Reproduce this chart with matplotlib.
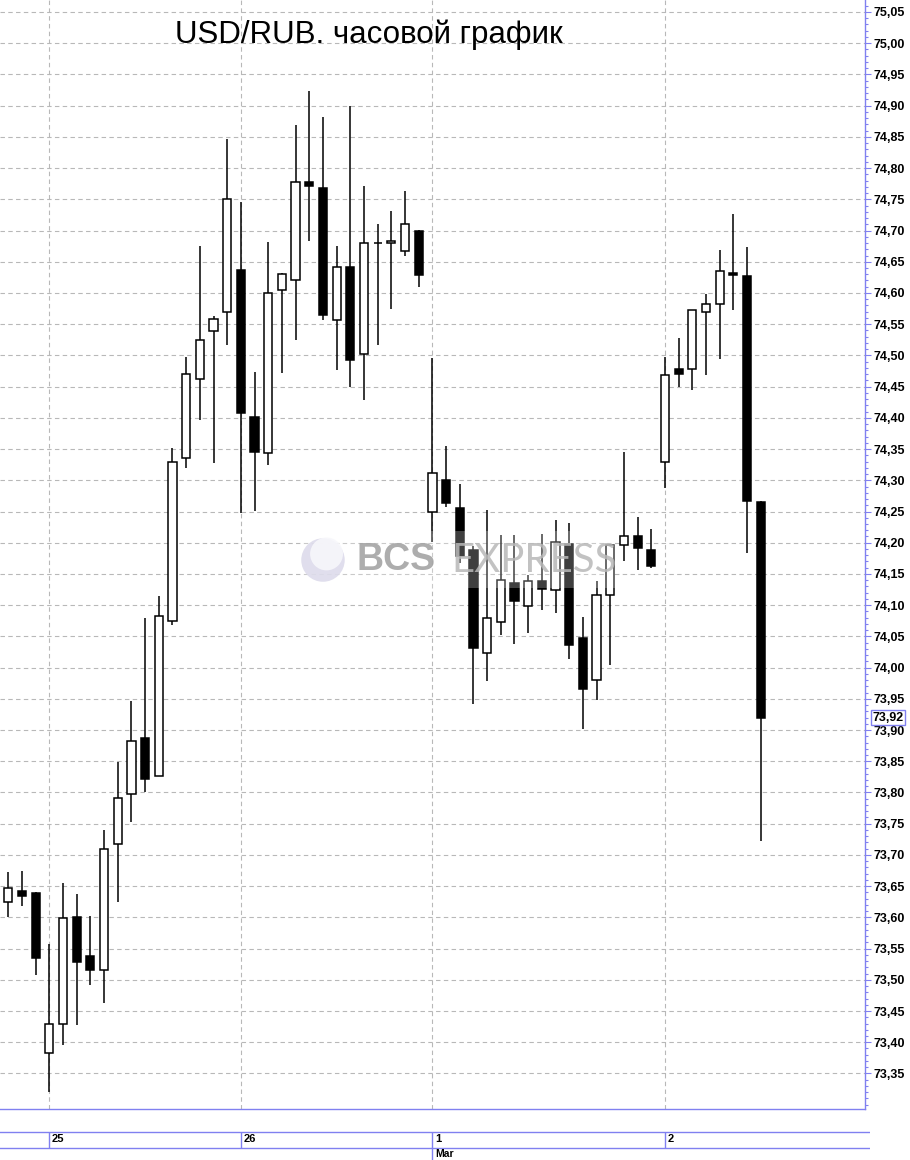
import numpy as np
import matplotlib
matplotlib.use("Agg")
import matplotlib.pyplot as plt
from matplotlib.patches import Rectangle
from matplotlib.ticker import MultipleLocator, FuncFormatter

# hourly USD/RUB candles, 24 Feb - 2 Mar
opens = [73.624, 73.642, 73.639, 73.382, 73.430, 73.601, 73.538, 73.515, 73.717, 73.797,
         73.887, 73.826, 74.074, 74.335, 74.462, 74.539, 74.569, 74.636, 74.401, 74.343,
         74.604, 74.621, 74.777, 74.768, 74.556, 74.641, 74.502, 74.680, 74.680, 74.667,
         74.699, 74.249, 74.300, 74.256, 74.188, 74.023, 74.073, 74.136, 74.099, 74.139,
         74.125, 74.198, 74.047, 73.980, 74.117, 74.197, 74.210, 74.189, 74.329, 74.479,
         74.479, 74.569, 74.582, 74.632, 74.627, 74.266]
highs = [73.673, 73.674, 73.640, 73.557, 73.655, 73.638, 73.602, 73.740, 73.849, 73.947,
         74.079, 74.115, 74.351, 74.497, 74.675, 74.563, 74.847, 74.746, 74.473, 74.681,
         74.632, 74.869, 74.923, 74.882, 74.675, 74.900, 74.772, 74.710, 74.731, 74.763,
         74.701, 74.496, 74.355, 74.294, 74.194, 74.252, 74.212, 74.212, 74.148, 74.214,
         74.236, 74.232, 74.081, 74.139, 74.198, 74.345, 74.241, 74.222, 74.497, 74.528,
         74.572, 74.598, 74.669, 74.727, 74.674, 74.267]
lows = [73.601, 73.619, 73.507, 73.321, 73.396, 73.428, 73.492, 73.463, 73.625, 73.752,
        73.800, 73.826, 74.069, 74.319, 74.397, 74.327, 74.516, 74.247, 74.251, 74.325,
        74.472, 74.525, 74.684, 74.557, 74.477, 74.450, 74.428, 74.516, 74.575, 74.660,
        74.610, 74.201, 74.257, 74.168, 73.941, 73.978, 74.052, 74.038, 74.056, 74.093,
        74.088, 74.013, 73.901, 73.948, 74.004, 74.171, 74.157, 74.160, 74.287, 74.449,
        74.445, 74.469, 74.495, 74.573, 74.183, 73.722]
closes = [73.647, 73.635, 73.535, 73.430, 73.599, 73.528, 73.515, 73.709, 73.791, 73.882,
          73.821, 74.082, 74.330, 74.471, 74.524, 74.559, 74.750, 74.408, 74.346, 74.600,
          74.630, 74.777, 74.771, 74.564, 74.641, 74.493, 74.680, 74.680, 74.684, 74.710,
          74.629, 74.311, 74.263, 74.179, 74.032, 74.080, 74.140, 74.107, 74.138, 74.126,
          74.201, 74.037, 73.966, 74.117, 74.196, 74.210, 74.192, 74.162, 74.468, 74.471,
          74.572, 74.582, 74.635, 74.629, 74.267, 73.920]

day_start = [3, 17, 31, 48]
day_labels = ["25", "26", "1", "2"]
month_start = 31
month_label = "Mar"
last_price = 73.92
price_ticks = np.round(np.arange(73.35, 75.051, 0.05), 2)
title = "USD/RUB. часовой график"

blue = "#8080f0"
grid_c = "#b8b8b8"

fig = plt.figure(figsize=(9.1, 11.6), dpi=100)
W, H = 910, 1160
ax = fig.add_axes([0, 51 / H, 865 / W, 1109 / H])

n = len(opens)
idx = np.arange(n)
bw = 0.6
for i in idx:
    o, h, l, c = opens[i], highs[i], lows[i], closes[i]
    ax.vlines(i, l, h, color="black", lw=1.1, zorder=2)
    up = c >= o
    ax.add_patch(Rectangle((i - bw / 2, min(o, c)), bw, abs(c - o),
                           facecolor="white" if up else "black",
                           edgecolor="black", lw=1.1, zorder=3))

ax.set_xlim(-0.607, 62.62)
ax.set_ylim(73.2931, 75.0692)

# grid
for d in day_start:
    ax.axvline(d, color=grid_c, lw=0.8, ls=(0, (4, 3)), zorder=1)
ax.set_yticks(price_ticks)
ax.yaxis.set_minor_locator(MultipleLocator(0.01))
ax.yaxis.grid(True, which="major", color=grid_c, lw=0.8, ls=(0, (4, 3)), zorder=1)
ax.set_axisbelow(True)

ax.yaxis.tick_right()
ax.yaxis.set_major_formatter(FuncFormatter(lambda v, p: f"{v:.2f}".replace(".", ",")))
ax.tick_params(axis="y", which="major", length=4, width=0.8, color=blue, pad=2,
               labelsize=9)
ax.tick_params(axis="y", which="minor", length=2.2, width=0.8, color=blue)
for lab in ax.get_yticklabels():
    lab.set_fontfamily("Liberation Sans")
    lab.set_fontweight("bold")
ax.set_xticks([])
for s in ["top", "left"]:
    ax.spines[s].set_visible(False)
ax.spines["right"].set_color(blue)
ax.spines["bottom"].set_color(blue)
ax.spines["right"].set_linewidth(1)
ax.spines["bottom"].set_linewidth(1)

ax.annotate(f"{last_price:.2f}".replace(".", ","), xy=(1, last_price),
            xycoords=("axes fraction", "data"), xytext=(5.5, 0), textcoords="offset points",
            va="center", ha="left", fontsize=9, fontweight="bold", family="Liberation Sans",
            bbox=dict(boxstyle="square,pad=0.12", fc="white", ec=blue, lw=1),
            annotation_clip=False, zorder=10)

# watermark
ax.add_patch(Rectangle((0.347, 0.470), 0.364, 0.051, transform=ax.transAxes,
                       facecolor="white", alpha=0.25, edgecolor="none", zorder=5))
ax.scatter([0.3734], [0.495], s=980, transform=ax.transAxes, color="#dddbeb",
           edgecolor="none", alpha=0.9, zorder=6)
ax.scatter([0.3775], [0.5005], s=560, transform=ax.transAxes, color="#f7f7fb",
           edgecolor="none", alpha=0.9, zorder=6)
ax.text(0.458, 0.495, "BCS", transform=ax.transAxes, ha="center", va="center",
        fontsize=27, fontweight="bold", color="#a4a4a4", family="Liberation Sans",
        alpha=0.9, zorder=6)
ax.text(0.617, 0.495, "EXPRESS", transform=ax.transAxes, ha="center", va="center",
        fontsize=29, fontweight="normal", color="#b8b8b8", family="Lato",
        alpha=0.85, zorder=6)

fig.text(369 / W, 1 - 43 / H, title, ha="center", va="baseline", fontsize=22.5,
         family="Liberation Sans")

# date band
ax2 = fig.add_axes([0, 0, 870 / W, 51 / H])
ax2.set_xlim(-0.607, -0.607 + (62.62 + 0.607) * 870 / 865)
ax2.set_ylim(1160, 1109)
ax2.axis("off")
ax2.axhline(1131.5, color=blue, lw=1)
ax2.axhline(1147.5, color=blue, lw=1)
for d, lab in zip(day_start, day_labels):
    ax2.vlines(d, 1131.5, 1147.5, color=blue, lw=1)
    ax2.text(d + 0.2, 1139.5, lab, ha="left", va="center", fontsize=8,
             fontweight="bold", family="Liberation Sans")
ax2.vlines(month_start, 1147.5, 1160, color=blue, lw=1)
ax2.text(month_start + 0.2, 1154, month_label, ha="left", va="center", fontsize=7.5,
         fontweight="bold", family="Liberation Sans")

fig.savefig("out.png", dpi=100)
